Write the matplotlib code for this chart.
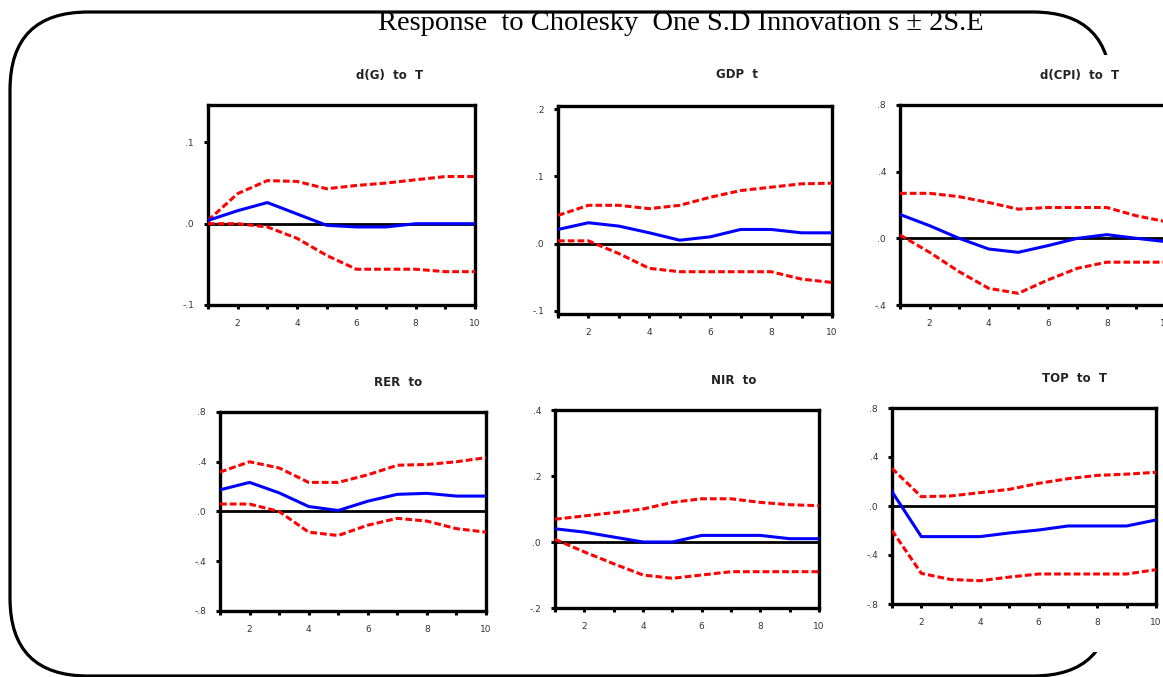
import numpy as np
import matplotlib.pyplot as plt
from matplotlib.patches import FancyBboxPatch, Rectangle

# =========================
# Datos
# =========================
periods = np.arange(1, 11)

titles = ["d(G)  to  T", "GDP  t", "d(CPI)  to  T", "RER  to", "NIR  to", "TOP  to  T"]

resp_dg = [0.004, 0.016, 0.026, 0.012, -0.002, -0.004, -0.004, 0.0, 0.0, 0.0]
up_dg = [0.004, 0.037, 0.053, 0.052, 0.043, 0.047, 0.050, 0.054, 0.058, 0.058]
lo_dg = [0.0, 0.0, -0.004, -0.018, -0.039, -0.056, -0.056, -0.056, -0.059, -0.059]

resp_gdp = [0.021, 0.031, 0.026, 0.016, 0.005, 0.010, 0.021, 0.021, 0.016, 0.016]
up_gdp = [0.042, 0.057, 0.057, 0.052, 0.057, 0.069, 0.079, 0.084, 0.089, 0.090]
lo_gdp = [0.004, 0.004, -0.015, -0.037, -0.042, -0.042, -0.042, -0.042, -0.053, -0.058]

resp_cpi = [0.143, 0.076, 0.0, -0.064, -0.084, -0.044, 0.0, 0.022, 0.0, -0.020]
up_cpi = [0.270, 0.270, 0.250, 0.215, 0.175, 0.185, 0.185, 0.185, 0.135, 0.100]
lo_cpi = [0.020, -0.084, -0.200, -0.300, -0.330, -0.250, -0.180, -0.143, -0.143, -0.143]

resp_rer = [0.174, 0.234, 0.150, 0.040, 0.008, 0.083, 0.138, 0.146, 0.124, 0.124]
up_rer = [0.317, 0.400, 0.350, 0.234, 0.234, 0.295, 0.372, 0.378, 0.400, 0.433]
lo_rer = [0.060, 0.060, 0.0, -0.166, -0.193, -0.110, -0.055, -0.077, -0.138, -0.166]

resp_nir = [0.040, 0.030, 0.015, 0.0, 0.0, 0.020, 0.020, 0.020, 0.010, 0.010]
up_nir = [0.069, 0.079, 0.089, 0.100, 0.120, 0.131, 0.131, 0.120, 0.113, 0.110]
lo_nir = [0.008, -0.030, -0.066, -0.100, -0.110, -0.100, -0.090, -0.090, -0.090, -0.090]

resp_top = [0.117, -0.250, -0.250, -0.250, -0.220, -0.196, -0.163, -0.163, -0.163, -0.114]
up_top = [0.307, 0.076, 0.082, 0.109, 0.136, 0.185, 0.223, 0.250, 0.260, 0.275]
lo_top = [-0.200, -0.550, -0.600, -0.610, -0.580, -0.555, -0.555, -0.555, -0.555, -0.520]

ylims = [(-0.1, 0.146), (-0.105, 0.205), (-0.4, 0.8), (-0.8, 0.8), (-0.2, 0.4), (-0.8, 0.8)]
yticks = [[-0.1, 0.0, 0.1], [-0.1, 0.0, 0.1, 0.2], [-0.4, 0.0, 0.4, 0.8],
          [-0.8, -0.4, 0.0, 0.4, 0.8], [-0.2, 0.0, 0.2, 0.4], [-0.8, -0.4, 0.0, 0.4, 0.8]]
ylabels = [["-.1", ".0", ".1"], ["-.1", ".0", ".1", ".2"], ["-.4", ".0", ".4", ".8"],
           ["-.8", "-.4", ".0", ".4", ".8"], ["-.2", ".0", ".2", ".4"],
           ["-.8", "-.4", ".0", ".4", ".8"]]
xlabels = ["", "2", "", "4", "", "6", "", "8", "", "10"]

resps = [resp_dg, resp_gdp, resp_cpi, resp_rer, resp_nir, resp_top]
ups = [up_dg, up_gdp, up_cpi, up_rer, up_nir, up_top]
los = [lo_dg, lo_gdp, lo_cpi, lo_rer, lo_nir, lo_top]

# =========================
# Figura
# =========================
W, H = 1163, 677
fig = plt.figure(figsize=(W / 100, H / 100), dpi=100)

# capa de fondo en pixeles
bg = fig.add_axes([0, 0, 1, 1], zorder=-1)
bg.set_xlim(0, W)
bg.set_ylim(H, 0)
bg.axis('off')
bg.add_patch(FancyBboxPatch((10, 12), 1101, 664, boxstyle="round,pad=0,rounding_size=78",
                            fc='none', ec='black', lw=2.3))
bg.add_patch(Rectangle((1082, 55), 90, 597, fc='white', ec='none'))
bg.text(681, 23, "Response  to Cholesky  One S.D Innovation s \u00b1 2S.E", ha='center', va='center',
        fontsize=20.5, family='Liberation Serif')

# posiciones de paneles (px): izquierda, arriba, derecha, abajo
boxes = [(208, 105, 475, 305), (558, 106, 832, 314), (900, 105, 1166, 305),
         (220, 412, 486, 611), (555, 410, 819, 608), (892, 408, 1156, 604)]
title_pos = [(390, 75), (737, 75), (1080, 76), (398, 382), (734, 380), (1074, 378)]

for i in range(6):
    l, t, r, b = boxes[i]
    ax = fig.add_axes([l / W, 1 - b / H, (r - l) / W, (b - t) / H])
    ax.axhline(0, color='black', lw=2.0, zorder=2)
    ax.plot(periods, ups[i], color='#ff0000', lw=2.2, ls=(0, (2.2, 1.0)), zorder=3)
    ax.plot(periods, los[i], color='#ff0000', lw=2.2, ls=(0, (2.2, 1.0)), zorder=3)
    ax.plot(periods, resps[i], color='#0000ff', lw=2.2, zorder=4)
    ax.set_xlim(1, 10)
    ax.set_ylim(*ylims[i])
    ax.set_xticks(periods)
    ax.set_xticklabels(xlabels)
    ax.set_yticks(yticks[i])
    ax.set_yticklabels(ylabels[i])
    ax.tick_params(direction='out', length=3, width=2.2, labelsize=6.5, pad=7,
                   labelcolor='#333333')
    for s in ax.spines.values():
        s.set_linewidth(2.4)
    bg.text(title_pos[i][0], title_pos[i][1], titles[i], ha='center', va='center',
            fontsize=8.5, fontweight='bold', color='#222222')

plt.savefig('out.png', dpi=100)
